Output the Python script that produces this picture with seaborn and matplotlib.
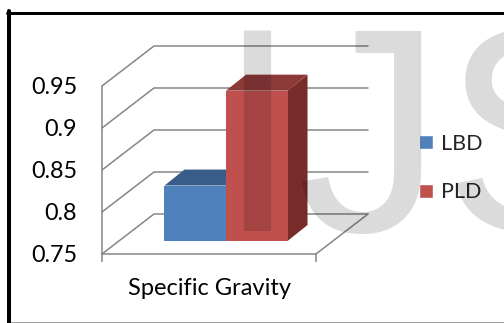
import matplotlib
matplotlib.use("Agg")
import matplotlib.pyplot as plt
from matplotlib.patches import Polygon
from matplotlib.lines import Line2D
from matplotlib.transforms import ScaledTranslation
import seaborn as sns
import pandas as pd

# ---- data ----
categories = ["Specific Gravity"]
series = ["LBD", "PLD"]
values = [0.816, 0.929]
y_ticks = [0.75, 0.80, 0.85, 0.90, 0.95]
y_tick_labels = ["0.75", "0.8", "0.85", "0.9", "0.95"]

front_colors = {"LBD": "#4F81BD", "PLD": "#C0504D"}
top_colors = {"LBD": "#385D8A", "PLD": "#8C3A38"}
side_colors = {"LBD": "#2C4A6E", "PLD": "#772C2A"}

W, H, DPI = 504, 323, 100
DEPTH = (52, 40)          # oblique offset of the back wall, in pixels
BAR_FRONT = (17, 13)      # offset of the bar front faces
BAR_BACK = (37, 29)       # offset of the bar back faces
GRID = "#868686"
FONT = "Lato"

sns.set_style("white")
plt.rcParams["font.family"] = [FONT, "DejaVu Sans"]

fig = plt.figure(figsize=(W / DPI, H / DPI), dpi=DPI)
ax = fig.add_axes([102 / W, 69 / H, 214 / W, 168 / H])

df = pd.DataFrame({
    "property": [categories[0]] * len(series),
    "sample": series,
    "value": values,
})
sns.barplot(data=df, x="property", y="value", hue="sample",
            palette=front_colors, saturation=1, width=0.575,
            ax=ax, legend=True)

ax.set_xlim(-0.5, 0.5)
ax.set_ylim(y_ticks[0], y_ticks[-1])
ax.set_yticks(y_ticks)
ax.set_yticklabels(y_tick_labels)
ax.set_xticks([0])
ax.set_xticklabels(categories)
ax.set_xticks([-0.5, 0.5], minor=True)
ax.set_xlabel("")
ax.set_ylabel("")
ax.patch.set_alpha(0)

for side in ("top", "right"):
    ax.spines[side].set_visible(False)
for side in ("left", "bottom"):
    ax.spines[side].set_color(GRID)
    ax.spines[side].set_linewidth(1.1)

px = 72 / DPI
ax.tick_params(axis="y", length=7 * px, width=1.1, color=GRID,
               labelsize=16.8, pad=18 * px, labelcolor="black")
ax.tick_params(axis="x", which="major", length=0, labelsize=17,
               pad=24 * px, labelcolor="black")
ax.tick_params(axis="x", which="minor", length=8 * px, width=1.1,
               color=GRID, bottom=True)


def shift(x, y, off):
    X, Y = ax.transData.transform((x, y))
    return ax.transData.inverted().transform((X + off[0], Y + off[1]))


x_lo, x_hi = ax.get_xlim()
base = y_ticks[0]

# side wall and back wall gridlines
for v in y_ticks:
    p0 = (x_lo, v)
    p1 = shift(x_lo, v, DEPTH)
    p2 = shift(x_hi, v, DEPTH)
    ax.plot([p0[0], p1[0], p2[0]], [p0[1], p1[1], p2[1]], color=GRID,
            lw=1.1, clip_on=False, zorder=1, solid_joinstyle="miter")
# right edge of the floor
q = shift(x_hi, base, DEPTH)
ax.plot([x_hi, q[0]], [base, q[1]], color=GRID, lw=1.1, clip_on=False,
        zorder=1)

# bars: seaborn draws the front faces, top and side faces are added
front_tf = ax.transData + ScaledTranslation(BAR_FRONT[0] / DPI,
                                            BAR_FRONT[1] / DPI,
                                            fig.dpi_scale_trans)
for i, (name, cont) in enumerate(zip(series, ax.containers)):
    bar = cont[0]
    x0 = bar.get_x()
    x1 = x0 + bar.get_width()
    top = bar.get_y() + bar.get_height()
    bar.set_y(base)
    bar.set_height(top - base)
    bar.set_transform(front_tf)
    bar.set_clip_on(False)
    bar.set_edgecolor("none")
    z = 2 + i
    bar.set_zorder(z + 0.2)
    top_face = [shift(x0, top, BAR_FRONT), shift(x1, top, BAR_FRONT),
                shift(x1, top, BAR_BACK), shift(x0, top, BAR_BACK)]
    side_face = [shift(x1, base, BAR_FRONT), shift(x1, top, BAR_FRONT),
                 shift(x1, top, BAR_BACK), shift(x1, base, BAR_BACK)]
    ax.add_patch(Polygon(side_face, closed=True, fc=side_colors[name],
                         ec="none", clip_on=False, zorder=z))
    ax.add_patch(Polygon(top_face, closed=True, fc=top_colors[name],
                         ec="none", clip_on=False, zorder=z + 0.1))

# legend
leg = ax.legend(loc="center left", bbox_to_anchor=(419 / W, 155 / H),
                bbox_transform=fig.transFigure, frameon=False,
                fontsize=15.5, handlelength=0.65, handleheight=0.65,
                handletextpad=0.37, labelspacing=1.34, borderpad=0,
                borderaxespad=0)

# background watermark lettering
fig.text(216 / W, 92 / H, "IJS", fontsize=210, family="Liberation Sans",
         color="black", alpha=0.14, ha="left", va="baseline", zorder=5)

# page frame
fig.add_artist(Line2D([9 / W, 9 / W], [0, 312 / H], color="black",
                      lw=4 * px, transform=fig.transFigure))
fig.add_artist(Line2D([7 / W, 503 / W], [310.5 / H, 310.5 / H],
                      color="black", lw=3 * px, transform=fig.transFigure))
fig.add_artist(Line2D([11 / W, 1], [1.5 / H, 1.5 / H], color="#A0A0A0",
                      lw=1 * px, transform=fig.transFigure))

fig.savefig("out.png", dpi=DPI, facecolor="white")
